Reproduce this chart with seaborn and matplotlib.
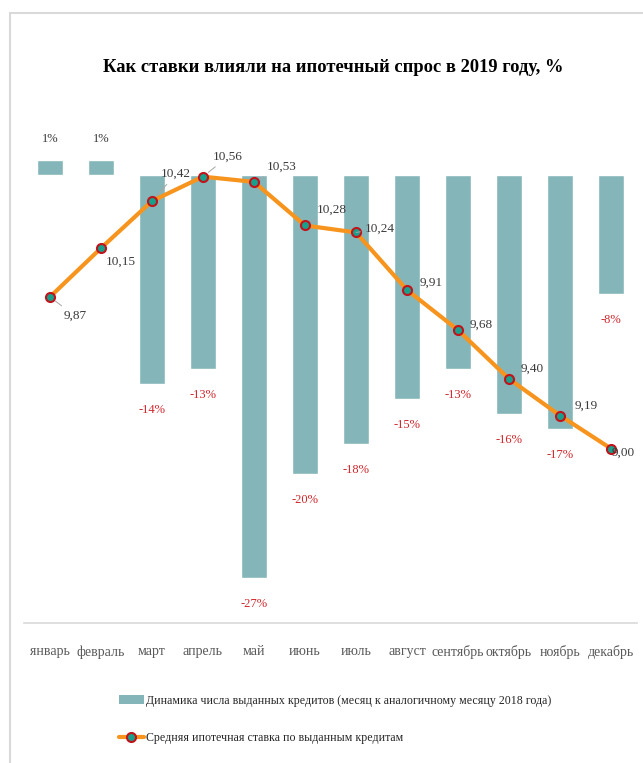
import numpy as np
import pandas as pd
import seaborn as sns
import matplotlib.pyplot as plt
from matplotlib.lines import Line2D
from matplotlib.patches import Patch, Rectangle

# Data
months = ['январь', 'февраль', 'март', 'апрель', 'май', 'июнь',
          'июль', 'август', 'сентябрь', 'октябрь', 'ноябрь', 'декабрь']
loans_change = [1, 1, -14, -13, -27, -20, -18, -15, -13, -16, -17, -8]
mortgage_rate = [9.87, 10.15, 10.42, 10.56, 10.53, 10.28,
                 10.24, 9.91, 9.68, 9.40, 9.19, 9.00]

bar_label = 'Динамика числа выданных кредитов (месяц к аналогичному месяцу 2018 года)'
line_label = 'Средняя ипотечная ставка по выданным кредитам'
title = 'Как ставки влияли на ипотечный спрос в 2019 году, %'

# label offsets for the rate labels (pixels from marker), and which get a leader line
rate_offsets = [(25, -19), (20, -14), (24, 27), (25, 20), (28, 15), (27, 16),
                (24, 4), (24, 7), (23, 5), (23, 10), (26, 10), (12, -4)]
rate_leaders = [True, False, True, True, True, True,
                True, True, True, True, True, False]

BAR_COLOR = '#84B5B9'
LINE_COLOR = '#F7941D'
RED = '#D0262C'
GRAY_TXT = '#3A3A3A'


def main():
    sns.set_style('white')
    plt.rcParams['font.family'] = ['Liberation Serif', 'DejaVu Serif']

    df = pd.DataFrame({'month': months, 'change': loans_change,
                       'rate': mortgage_rate, 'pos': np.arange(len(months))})

    fig = plt.figure(figsize=(6.43, 7.63), dpi=100)
    ax = fig.add_axes([0.038, 0.1835, 0.952, 0.6855])

    sns.barplot(data=df, x='month', y='change', color=BAR_COLOR, saturation=1,
                width=0.51, ax=ax)
    ax.set_ylim(-30, 5)
    ax.set_xlim(-0.5, len(months) - 0.5)
    ax.set_xlabel('')
    ax.set_ylabel('')
    ax.set_yticks([])
    for s in ['top', 'left', 'right']:
        ax.spines[s].set_visible(False)
    ax.spines['bottom'].set_color('#D9D9D9')
    ax.spines['bottom'].set_linewidth(1.2)
    ax.tick_params(axis='x', length=0, pad=16, labelsize=10, labelcolor='#595959')

    # bar value labels
    for i, v in enumerate(loans_change):
        if v < 0:
            ax.annotate(f'{v}%', (i, v), xytext=(0, -26), textcoords='offset pixels',
                        ha='center', va='center', fontsize=9, color=RED)
        else:
            ax.annotate(f'{v}%', (i, v), xytext=(0, 21), textcoords='offset pixels',
                        ha='center', va='center', fontsize=9, color=GRAY_TXT)

    # rate line on a hidden secondary axis
    ax2 = ax.twinx()
    sns.lineplot(data=df, x='pos', y='rate', color=LINE_COLOR, linewidth=3,
                 marker='o', markersize=6.5, markerfacecolor='#17A08C',
                 markeredgecolor='#C0141C', markeredgewidth=1.5, ax=ax2)
    ax2.set_ylim(8, 11)
    ax2.set_xlim(-0.5, len(months) - 0.5)
    ax2.axis('off')

    for i, v in enumerate(mortgage_rate):
        dx, dy = rate_offsets[i]
        txt = f'{v:.2f}'.replace('.', ',')
        arrow = None
        if rate_leaders[i]:
            arrow = dict(arrowstyle='-', color='#A6A6A6', lw=0.7, shrinkA=1, shrinkB=5)
        ax2.annotate(txt, (i, v), xytext=(dx, dy), textcoords='offset pixels',
                     ha='center', va='center', fontsize=9.5, color=GRAY_TXT,
                     arrowprops=arrow)

    fig.suptitle(title, x=0.518, y=0.923, fontsize=13.3, fontweight='bold', color='black')

    # legend
    handles = [Patch(facecolor=BAR_COLOR, edgecolor='none'),
               Line2D([0], [0], color=LINE_COLOR, lw=3, marker='o', markersize=6.5,
                      markerfacecolor='#17A08C', markeredgecolor='#C0141C',
                      markeredgewidth=1.5)]
    fig.legend(handles, [bar_label, line_label], loc='upper left',
               bbox_to_anchor=(0.168, 1 - 684 / 763), frameon=False,
               fontsize=8.6, labelspacing=2.1, handlelength=2.1, handletextpad=0.2,
               labelcolor='#262626')

    # chart frame (left and top edges visible)
    fig.add_artist(Rectangle((10 / 643, -0.05), 1.2, 1.05 - 13 / 763,
                             transform=fig.transFigure, fill=False,
                             edgecolor='#D9D9D9', lw=1.5))

    fig.savefig('out.png', dpi=100)
    plt.close(fig)


if __name__ == "__main__":
    main()
